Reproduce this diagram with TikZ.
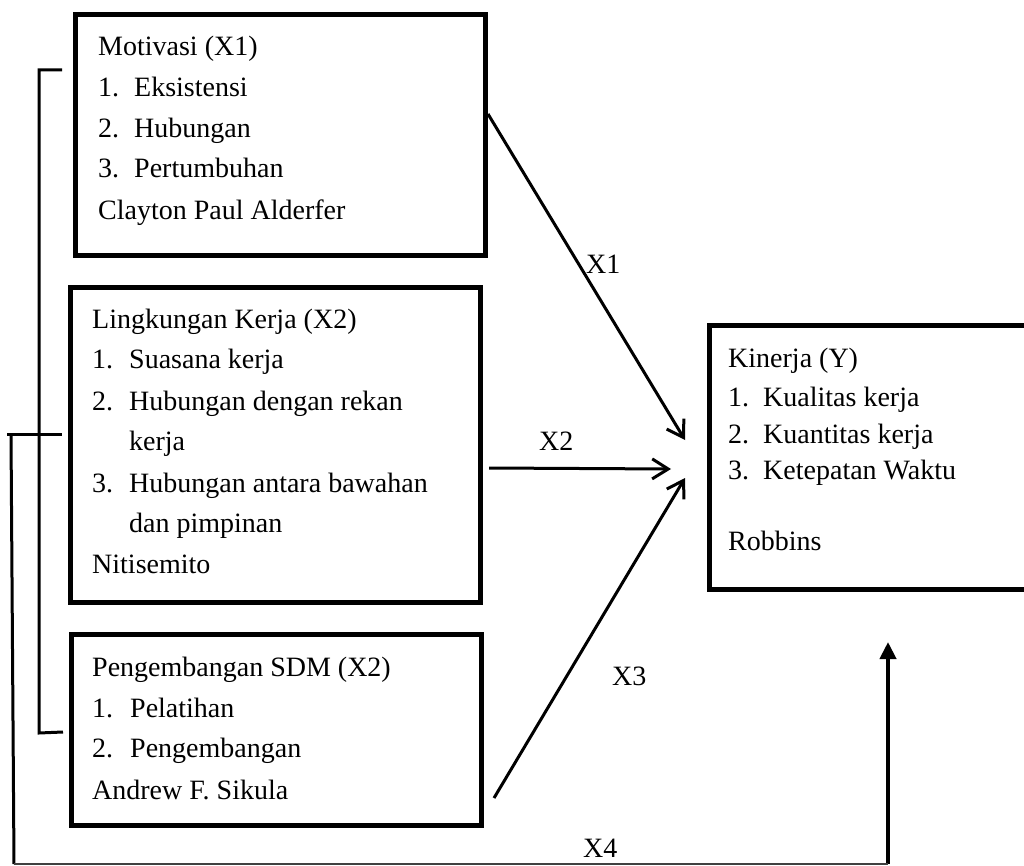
\documentclass[tikz,border=0pt]{standalone}
\usepackage{fontspec}
\setmainfont{Liberation Serif}
\usetikzlibrary{arrows.meta}
\begin{document}
\begin{tikzpicture}[x=1pt,y=-1pt,
 box/.style={draw, line width=5pt, inner sep=0pt, outer sep=0pt},
 txt/.style={anchor=base west, inner sep=0pt, font=\fontsize{28}{34}\selectfont},
 conn/.style={line width=3pt},
 arr/.style={line width=3pt, -{Straight Barb[length=16pt,width=20pt]}},
 uparr/.style={line width=4pt, -{Triangle[length=17pt,width=16pt]}}]
\clip (0,0) rectangle (1024,866);
% boxes
\node[box, minimum width=410, minimum height=241.5] (b1) at (280,135.25) {};
\node[box, minimum width=410, minimum height=315] (b2) at (275.75,445) {};
\node[box, minimum width=409.5, minimum height=190.5] (b3) at (276.25,729.75) {};
\node[box, minimum width=330.5, minimum height=264] (by) at (874.75,457.5) {};
% box 1 text
\node[txt] (t1h) at (98,56) {Motivasi (X1)};
\node[txt] (t1n1) at (98,97) {1.};
\node[txt] (t1i1) at (134,97) {Eksistensi};
\node[txt] (t1n2) at (98,138) {2.};
\node[txt] (t1i2) at (134,138) {Hubungan};
\node[txt] (t1n3) at (98,178) {3.};
\node[txt] (t1i3) at (134,178) {Pertumbuhan};
\node[txt] (t1a) at (98,220) {Clayton Paul Alderfer};
% box 2 text
\node[txt] (t2h) at (92,328) {Lingkungan Kerja (X2)};
\node[txt] (t2n1) at (92,368) {1.};
\node[txt] (t2i1) at (129,368) {Suasana kerja};
\node[txt] (t2n2) at (92,410) {2.};
\node[txt] (t2i2) at (129,410) {Hubungan dengan rekan};
\node[txt] (t2i2b) at (129,450) {kerja};
\node[txt] (t2n3) at (92,492) {3.};
\node[txt] (t2i3) at (129,492) {Hubungan antara bawahan};
\node[txt] (t2i3b) at (129,532) {dan pimpinan};
\node[txt] (t2a) at (92,573) {Nitisemito};
% box 3 text
\node[txt] (t3h) at (92,676) {Pengembangan SDM (X2)};
\node[txt] (t3n1) at (92,717) {1.};
\node[txt] (t3i1) at (130,717) {Pelatihan};
\node[txt] (t3n2) at (92,757) {2.};
\node[txt] (t3i2) at (130,757) {Pengembangan};
\node[txt] (t3a) at (92,799) {Andrew F. Sikula};
% Kinerja text
\node[txt] (tyh) at (728,367) {Kinerja (Y)};
\node[txt] (tyn1) at (728,406) {1.};
\node[txt] (tyi1) at (763,406) {Kualitas kerja};
\node[txt] (tyn2) at (728,443) {2.};
\node[txt] (tyi2) at (763,443) {Kuantitas kerja};
\node[txt] (tyn3) at (728,479) {3.};
\node[txt] (tyi3) at (763,479) {Ketepatan Waktu};
\node[txt] (tya) at (728,550) {Robbins};
% labels
\node[txt] (lx1) at (586,273) {X1};
\node[txt] (lx2) at (539,450) {X2};
\node[txt] (lx3) at (612,685) {X3};
\node[txt] (lx4) at (583,857) {X4};
% connector end points
\coordinate (x1s) at (488,114);
\coordinate (x1e) at (685,440);
\coordinate (x2s) at (489,468);
\coordinate (x2e) at (671,469);
\coordinate (x3s) at (494,798);
\coordinate (x3e) at (685,478);
\coordinate (x4e) at (888,642);
\coordinate (x4c) at (888,864);
\coordinate (ll) at (14,864);
\coordinate (lt) at (11,434);
\coordinate (jl) at (7,434);
\coordinate (jr) at (62,434);
\coordinate (bt) at (62,70);
\coordinate (btc) at (39,70);
\coordinate (bbc) at (39,733);
\coordinate (bb) at (63,732);
% arrows
\draw[arr] (x1s) -- (x1e);
\draw[arr] (x2s) -- (x2e);
\draw[arr] (x3s) -- (x3e);
\draw[uparr] (x4c) -- (x4e);
% brackets
\draw[conn] (bt) -- (btc) -- (bbc) -- (bb);
\draw[conn] (jl) -- (jr);
\draw[conn] (lt) -- (ll);
\draw[line width=2pt, black!75] (ll) -- (x4c);
\end{tikzpicture}
\end{document}
